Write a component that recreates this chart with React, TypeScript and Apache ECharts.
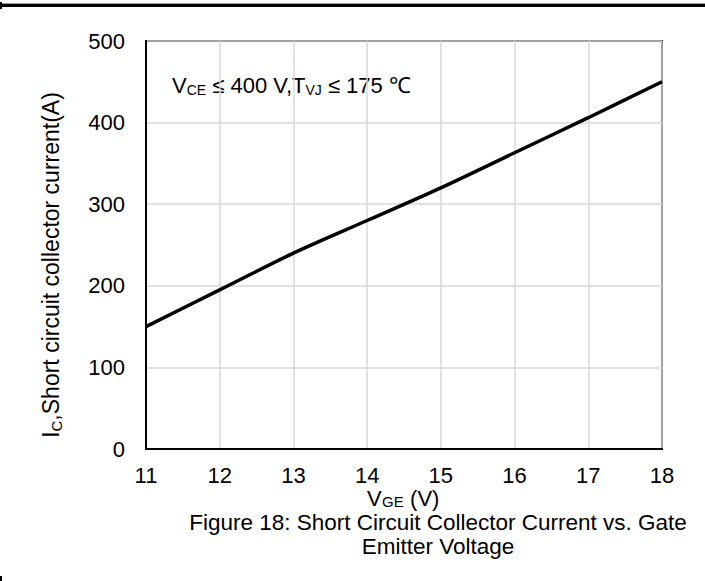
import React, { useEffect, useRef } from "react";
import * as echarts from "echarts";

// Gate-emitter voltage (V) and short-circuit collector current (A)
const vgeValues = [11, 12, 13, 14, 15, 16, 17, 18];
const icValues = [150, 195, 240, 280, 320, 363, 406, 450];
const yTicks = [0, 100, 200, 300, 400, 500];

const FONT = "'Liberation Sans', Arial, sans-serif";

const plain = (text: string, x: number, y: number, fontSize: number, align = "left") => ({
  type: "text",
  x,
  y,
  style: { text, fontSize, fill: "#000", fontFamily: FONT, align, verticalAlign: "middle" },
});

export default function App() {
  const ref = useRef<HTMLDivElement>(null);

  useEffect(() => {
    if (!ref.current) return;
    const chart = echarts.init(ref.current, undefined, { renderer: "svg" });
    const points = vgeValues.map((v, i) => [v, icValues[i]]);

    chart.setOption({
      animation: false,
      backgroundColor: "#ffffff",
      textStyle: { fontFamily: FONT, fontSize: 22 },
      grid: {
        left: 146,
        top: 41,
        width: 516,
        height: 408,
        show: true,
        borderColor: "#000",
        borderWidth: 2,
        containLabel: false,
      },
      xAxis: {
        type: "value",
        min: 11,
        max: 18,
        interval: 1,
        axisLine: { show: true, lineStyle: { color: "#000", width: 2 } },
        axisTick: { show: false },
        axisLabel: { color: "#000", fontSize: 22, margin: 15, fontFamily: FONT },
        splitLine: { show: true, lineStyle: { color: "#d9d9d9", width: 1.5 } },
      },
      yAxis: {
        type: "value",
        min: yTicks[0],
        max: yTicks[yTicks.length - 1],
        interval: 100,
        axisLine: { show: true, lineStyle: { color: "#000", width: 2 } },
        axisTick: { show: false },
        axisLabel: { color: "#000", fontSize: 22, margin: 21, fontFamily: FONT },
        splitLine: { show: true, lineStyle: { color: "#d9d9d9", width: 1.5 } },
      },
      series: [
        {
          type: "line",
          data: points,
          showSymbol: false,
          smooth: 0.3,
          lineStyle: { color: "#000", width: 3.5 },
        },
      ],
      graphic: [
        {
          type: "rect",
          shape: { x: 0, y: 4, width: 705, height: 3 },
          style: { fill: "#000" },
        },
        {
          type: "rect",
          shape: { x: 0, y: 3, width: 705, height: 1 },
          style: { fill: "#999" },
        },
        {
          type: "rect",
          shape: { x: 0, y: 2, width: 2, height: 7 },
          style: { fill: "#000" },
        },
        {
          type: "rect",
          shape: { x: 0, y: 576, width: 2, height: 5 },
          style: { fill: "#000" },
        },
        {
          // Y-axis title
          type: "text",
          x: 51,
          y: 265,
          rotation: Math.PI / 2,
          style: {
            text: "{m|I}{s|C}{m|,Short circuit collector current(A)}",
            align: "center",
            verticalAlign: "middle",
            rich: {
              m: { fontSize: 23, fill: "#000", fontFamily: FONT },
              s: { fontSize: 15, fill: "#000", fontFamily: FONT, verticalAlign: "bottom", padding: [10, 0, 0, 0] },
            },
          },
        },
        // X-axis title: V with subscript GE, then the unit
        plain("V", 367, 498, 22),
        plain("GE", 382, 501.5, 15),
        plain(" (V)", 404, 498, 22),
        {
          type: "text",
          x: 172,
          y: 85,
          style: {
            text: "{m|V}{s|CE}{m| ≤ 400 V,T}{s|VJ}{m| ≤ 175 ℃}",
            verticalAlign: "middle",
            rich: {
              m: { fontSize: 22, fill: "#000", fontFamily: FONT },
              s: { fontSize: 14, fill: "#000", fontFamily: FONT, verticalAlign: "bottom", padding: [9, 0, 0, 0] },
            },
          },
        },
        plain("Figure 18: Short Circuit Collector Current vs. Gate", 438, 522.5, 22.5, "center"),
        plain("Emitter Voltage", 438, 546, 22.5, "center"),
      ],
    });

    return () => chart.dispose();
  }, []);

  return <div ref={ref} style={{ width: 705, height: 581, position: "absolute", left: 0, top: 0 }} />;
}
